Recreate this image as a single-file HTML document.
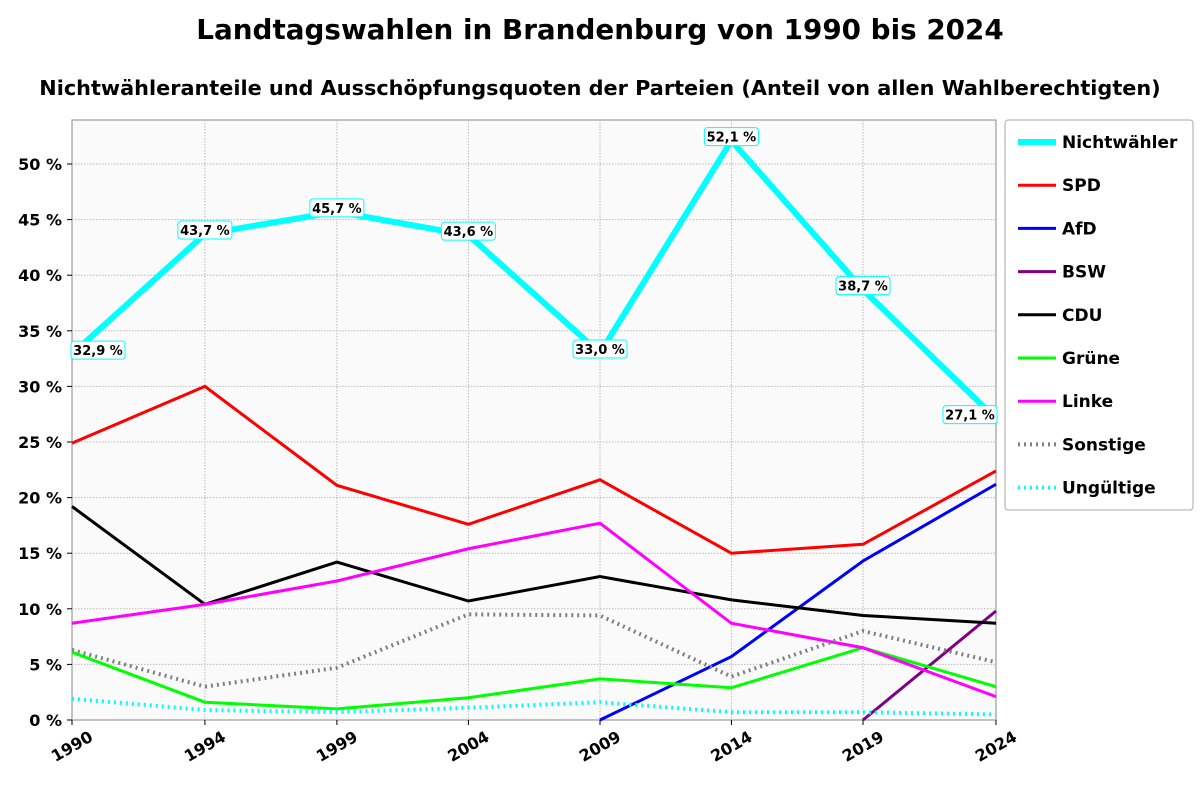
<!DOCTYPE html>
<html><head><meta charset="utf-8"><style>
body{margin:0;background:#fff;width:1200px;height:800px;overflow:hidden;font-family:"DejaVu Sans",sans-serif}
</style></head><body>
<svg id="s" width="1200" height="800" xmlns="http://www.w3.org/2000/svg" font-family="DejaVu Sans, sans-serif" font-weight="bold">
<text x="600" y="39" text-anchor="middle" font-size="27.8">Landtagswahlen in Brandenburg von 1990 bis 2024</text>
<text x="600" y="95" text-anchor="middle" font-size="20.8">Nichtwähleranteile und Ausschöpfungsquoten der Parteien (Anteil von allen Wahlberechtigten)</text>
<rect x="72" y="120" width="924" height="600" fill="#fafafa" stroke="#888" stroke-width="1"/>
<g id="g"></g>
</svg>
<script>
var X=[72,204.9,336.9,468.4,600,731.4,863,996];
function Y(v){return 720-v*11.12;}
var g=document.getElementById('g'),ns="http://www.w3.org/2000/svg";
function el(t,a,txt){var e=document.createElementNS(ns,t);for(var k in a)e.setAttribute(k,a[k]);if(txt!==undefined)e.textContent=txt;g.appendChild(e);return e;}
for(var i=0;i<=10;i++){var y=Y(i*5);if(i>0)el('line',{x1:72,x2:996,y1:y,y2:y,stroke:'#bbb','stroke-dasharray':'1.5,1.5'});
el('line',{x1:67,x2:72,y1:y,y2:y,stroke:'#000'});
el('text',{x:62,y:y+6,'text-anchor':'end','font-size':16},(i*5)+' %');}
var yrs=[1990,1994,1999,2004,2009,2014,2019,2024];
X.forEach(function(x,i){if(i>0&&i<7)el('line',{x1:x,x2:x,y1:120,y2:720,stroke:'#bbb','stroke-dasharray':'1.5,1.5'});
el('line',{x1:x,x2:x,y1:720,y2:725,stroke:'#000'});
el('text',{x:x+22,y:740,'text-anchor':'end','font-size':16,transform:'rotate(-30 '+(x+22)+' 740)'},yrs[i]);});
var S=[
['SPD','#f00',3,null,[24.9,30.0,21.1,17.6,21.6,15.0,15.8,22.4]],
['AfD','#00f',3,null,[null,null,null,null,0,5.7,14.3,21.2]],
['BSW','#800080',3,null,[null,null,null,null,null,null,0,9.8]],
['CDU','#000',3,null,[19.2,10.4,14.2,10.7,12.9,10.8,9.4,8.7]],
['Grüne','#0f0',3,null,[6.1,1.6,1.0,2.0,3.7,2.9,6.5,3.0]],
['Linke','#f0f',3,null,[8.7,10.4,12.5,15.4,17.7,8.7,6.5,2.1]],
['Sonstige','#808080',4,'2,4',[6.3,3.0,4.7,9.5,9.4,3.9,8.0,5.2]],
['Ungültige','#0ff',4,'2,4',[1.9,0.9,0.7,1.1,1.6,0.7,0.7,0.5]],
['Nichtwähler','#0ff',6,null,[32.9,43.7,45.7,43.6,33.0,52.1,38.7,27.1]]];
S.forEach(function(s){var p=[];s[4].forEach(function(v,i){if(v!==null)p.push(X[i]+','+Y(v));});
var a={points:p.join(' '),fill:'none',stroke:s[1],'stroke-width':s[2]};if(s[3])a['stroke-dasharray']=s[3];el('polyline',a);});
var nw=S[8][4];
nw.forEach(function(v,i){var x=X[i]+(i==0?26:(i==7?-26:0)),y=Y(v)-4;var t=v.toFixed(1).replace('.',',')+' %';
el('rect',{x:x-27,y:y-9,width:54,height:18,rx:3,fill:'#fff',stroke:'#0ff','stroke-width':1});
el('text',{x:x,y:y+5,'text-anchor':'middle','font-size':13},t);});
el('rect',{x:1005,y:120,width:188,height:390,rx:3,fill:'#fff',stroke:'#aaa'});
var L=[S[8],S[0],S[1],S[2],S[3],S[4],S[5],S[6],S[7]];
L.forEach(function(s,i){var y=142+i*43.2;var a={x1:1018,x2:1056,y1:y,y2:y,stroke:s[1],'stroke-width':s[2]};if(s[3])a['stroke-dasharray']=s[3];el('line',a);
el('text',{x:1062,y:y+6,'font-size':17},s[0]);});
</script>
</body></html>
